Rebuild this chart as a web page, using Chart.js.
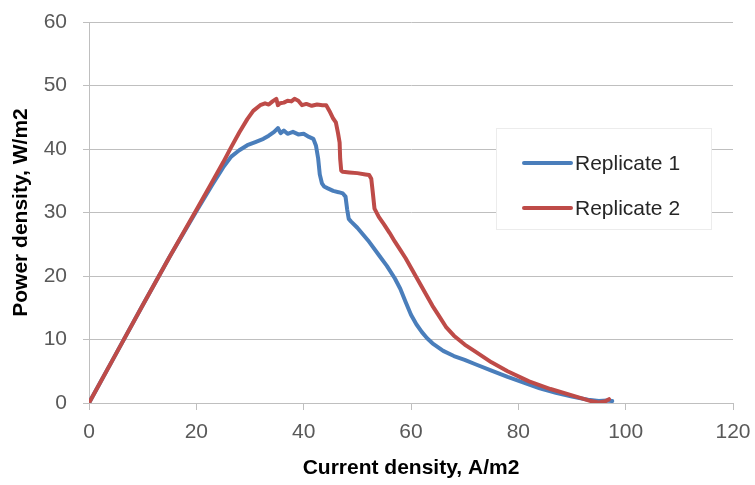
<!DOCTYPE html>
<html>
<head>
<meta charset="utf-8">
<script src="https://cdn.jsdelivr.net/npm/chart.js@4"></script>
<style>
  html, body { margin: 0; padding: 0; background: #ffffff; }
  #wrap { width: 755px; height: 485px; }
</style>
</head>
<body>
<div id="wrap"><canvas id="chart" width="755" height="485"></canvas></div>
<script>
// Polarisation data: power density (W/m2) against current density (A/m2)
const seriesNames = ['Replicate 1', 'Replicate 2'];

const rep1Current = [0, 5, 10, 15, 20, 23, 25, 26.5, 28, 29.5, 31, 32.5, 33.5, 34.5, 35.2, 35.7, 36.3, 37, 38, 39, 40, 41, 41.8,
  42.3, 42.7, 43.0, 43.4, 43.8, 44.5, 45.5, 46.5, 47.3, 47.8, 48.1, 48.4, 48.8, 50, 52, 54, 55.5, 57, 58, 59, 60, 61, 62, 63,
  64, 66, 68, 70, 72, 75, 78, 81, 84, 87, 90, 93, 95, 96.5, 97.5];
const rep1Power = [0, 7.7, 15.4, 23.0, 30.2, 34.4, 37.1, 38.8, 39.8, 40.6, 41.1, 41.6, 42.1, 42.7, 43.3, 42.5, 42.9, 42.4, 42.7, 42.3, 42.4, 41.9, 41.6,
  40.5, 38.5, 36.0, 34.6, 34.1, 33.8, 33.4, 33.2, 33.0, 32.5, 30.5, 29.0, 28.6, 27.6, 25.6, 23.3, 21.6, 19.6, 18.0, 15.9, 13.9, 12.4, 11.2, 10.2,
  9.4, 8.2, 7.4, 6.8, 6.1, 5.1, 4.1, 3.2, 2.3, 1.6, 1.0, 0.5, 0.3, 0.4, 0.3];

const rep2Current = [0, 5, 10, 15, 20, 23, 25, 26.5, 28, 29.5, 30.6, 31.9, 32.8, 33.5, 34.2, 34.9, 35.2, 35.6, 36.3, 37, 37.7, 38.3,
  39, 39.7, 40.5, 41.5, 42.5, 43.5, 44.2, 44.8, 45.5, 46, 46.4, 46.7, 46.8, 47.0, 47.3, 48.5, 50, 51.5, 52.2, 52.6, 52.9, 53.2,
  54, 55, 56, 57, 58, 59, 60, 61, 62, 63, 64, 65, 66.5, 68, 70, 72, 75, 78, 82, 86, 90, 92, 93.5, 95, 96.3, 96.9];
const rep2Power = [0, 7.7, 15.4, 23.0, 30.4, 34.9, 37.9, 40.3, 42.6, 44.7, 46.0, 46.9, 47.2, 47.0, 47.5, 47.9, 46.9, 47.2, 47.3, 47.6, 47.5, 47.9,
  47.6, 46.9, 47.1, 46.8, 47.0, 46.9, 46.9, 46.0, 44.8, 44.2, 42.5, 41.0, 38.5, 36.6, 36.4, 36.3, 36.2, 36.0, 35.9, 35.3, 33.0, 30.6,
  29.3, 28.1, 26.8, 25.4, 24.1, 22.8, 21.3, 19.8, 18.3, 16.8, 15.3, 14.0, 12.0, 10.6, 9.2, 8.1, 6.4, 5.0, 3.4, 2.2, 1.2, 0.7, 0.3, 0.1, 0.3, 0.6];

const xTickValues = [0, 20, 40, 60, 80, 100, 120];
const yTickValues = [0, 10, 20, 30, 40, 50, 60];

const seriesColors = ['#4a7ebb', '#be4b48'];
const FONT = "'Liberation Sans', Arial, sans-serif";

function toPoints(xs, ys) {
  return xs.map((x, i) => ({ x: x, y: ys[i] }));
}

// Legend drawn as a white panel inside the plot area
const insetLegend = {
  id: 'insetLegend',
  afterDatasetsDraw(chart) {
    const { ctx, chartArea } = chart;
    const boxL = chartArea.left + 407;
    const boxT = chartArea.top + 106;
    const boxW = 216;
    const boxH = 102;
    ctx.save();
    ctx.fillStyle = '#ffffff';
    ctx.fillRect(boxL, boxT, boxW, boxH);
    ctx.strokeStyle = '#ececec';
    ctx.lineWidth = 1;
    ctx.strokeRect(boxL + 0.5, boxT + 0.5, boxW - 1, boxH - 1);
    chart.data.datasets.forEach((ds, i) => {
      const cy = boxT + 35 + i * 45;
      ctx.strokeStyle = ds.borderColor;
      ctx.lineWidth = 4;
      ctx.lineCap = 'round';
      ctx.beginPath();
      ctx.moveTo(boxL + 28, cy);
      ctx.lineTo(boxL + 75, cy);
      ctx.stroke();
      ctx.fillStyle = '#262626';
      ctx.font = '21px ' + FONT;
      ctx.textBaseline = 'middle';
      ctx.textAlign = 'left';
      ctx.fillText(ds.label, boxL + 79, cy + 1);
    });
    ctx.restore();
  }
};

new Chart(document.getElementById('chart'), {
  type: 'scatter',
  data: {
    datasets: [
      {
        label: seriesNames[0],
        data: toPoints(rep1Current, rep1Power),
        borderColor: seriesColors[0],
        backgroundColor: seriesColors[0],
        order: 1
      },
      {
        label: seriesNames[1],
        data: toPoints(rep2Current, rep2Power),
        borderColor: seriesColors[1],
        backgroundColor: seriesColors[1],
        order: 0
      }
    ]
  },
  options: {
    responsive: false,
    animation: false,
    devicePixelRatio: 1,
    showLine: true,
    elements: {
      point: { radius: 0, hoverRadius: 0 },
      line: { borderWidth: 4, tension: 0, borderJoinStyle: 'round', borderCapStyle: 'round' }
    },
    layout: { padding: { left: 0, right: 22, top: 22, bottom: 0 } },
    plugins: {
      legend: { display: false },
      tooltip: { enabled: false }
    },
    scales: {
      x: {
        type: 'linear',
        min: 0,
        max: 120,
        afterBuildTicks: (s) => { s.ticks = xTickValues.map(v => ({ value: v })); },
        afterFit: (s) => {
          s.height = 82;
          s.paddingLeft = 0;
          s.paddingRight = 0;
        },
        grid: { drawOnChartArea: false, drawTicks: true, tickLength: 7, color: '#bfbfbf' },
        border: { color: '#bfbfbf', width: 1 },
        ticks: { color: '#595959', font: { family: FONT, size: 21 }, padding: 10, maxRotation: 0, autoSkip: false },
        title: {
          display: true,
          text: 'Current density, A/m2',
          color: '#000000',
          font: { family: FONT, size: 21, weight: 'bold' },
          padding: { top: 0, bottom: 4 }
        }
      },
      y: {
        type: 'linear',
        min: 0,
        max: 60,
        afterBuildTicks: (s) => { s.ticks = yTickValues.map(v => ({ value: v })); },
        afterFit: (s) => {
          s.width = 89;
          s.paddingTop = 0;
          s.paddingBottom = 0;
        },
        grid: { drawOnChartArea: true, drawTicks: true, tickLength: 6, color: '#bfbfbf' },
        border: { color: '#bfbfbf', width: 1 },
        ticks: { color: '#595959', font: { family: FONT, size: 21 }, padding: 16 },
        title: {
          display: true,
          text: 'Power density, W/m2',
          color: '#000000',
          font: { family: FONT, size: 21, weight: 'bold' },
          padding: { top: 9, bottom: 0 }
        }
      }
    }
  },
  plugins: [insetLegend]
});
</script>
</body>
</html>
